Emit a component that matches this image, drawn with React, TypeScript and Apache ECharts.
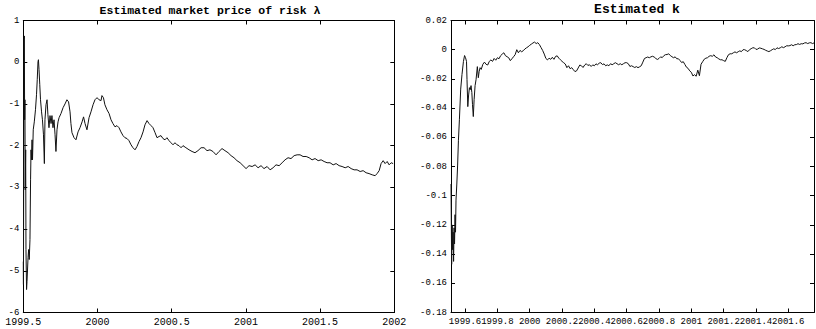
import React, { useEffect, useRef } from "react";
import * as echarts from "echarts";

const LAMBDA_TITLE = "Estimated market price of risk λ";
const KAPPA_TITLE = "Estimated k";

const lambdaXTicks = [1999.5, 2000, 2000.5, 2001, 2001.5, 2002];
const lambdaYTicks = [-6, -5, -4, -3, -2, -1, 0, 1];
const kappaXTicks = [1999.6, 1999.8, 2000, 2000.2, 2000.4, 2000.6, 2000.8, 2001, 2001.2, 2001.4, 2001.6];
const kappaYTicks = [-0.18, -0.16, -0.14, -0.12, -0.1, -0.08, -0.06, -0.04, -0.02, 0, 0.02];

const lambdaSeries: [number, number][] = [
  [1999.500, -4.78], [1999.501, -5.33], [1999.505, 0.54], [1999.507, 0.63], [1999.509, -1.38],
  [1999.511, -0.90], [1999.513, -3.06], [1999.516, -2.10], [1999.518, -4.49], [1999.522, -5.45],
  [1999.525, -5.26], [1999.532, -4.68], [1999.536, -4.49], [1999.540, -4.73], [1999.545, -4.25],
  [1999.549, -2.82], [1999.552, -2.10], [1999.555, -2.34], [1999.559, -1.86], [1999.562, -2.34],
  [1999.567, -1.62], [1999.574, -1.43], [1999.582, -1.14], [1999.589, -0.78], [1999.594, -0.42],
  [1999.599, 0.01], [1999.602, 0.06], [1999.606, -0.18], [1999.611, -0.54], [1999.616, -0.90],
  [1999.623, -1.19], [1999.629, -1.38], [1999.636, -1.74], [1999.642, -2.43], [1999.646, -1.38],
  [1999.653, -1.02], [1999.660, -0.90], [1999.666, -1.26], [1999.673, -1.57], [1999.680, -1.28],
  [1999.687, -1.47], [1999.693, -1.28], [1999.700, -1.57], [1999.707, -1.38], [1999.714, -1.74],
  [1999.720, -2.14], [1999.727, -1.62], [1999.734, -1.43], [1999.741, -1.33], [1999.754, -1.23],
  [1999.768, -1.09], [1999.781, -1.00], [1999.794, -0.90], [1999.805, -0.95], [1999.815, -1.19],
  [1999.821, -1.47], [1999.828, -1.69], [1999.842, -1.81], [1999.855, -1.86], [1999.869, -1.67],
  [1999.882, -1.57], [1999.896, -1.43], [1999.906, -1.31], [1999.916, -1.47], [1999.929, -1.62],
  [1999.943, -1.33], [1999.956, -1.19], [1999.970, -1.02], [1999.983, -0.90], [1999.997, -0.85],
  [2000.010, -0.90], [2000.024, -0.92], [2000.030, -0.80], [2000.040, -0.85], [2000.050, -1.02],
  [2000.064, -1.14], [2000.078, -1.23], [2000.091, -1.38], [2000.104, -1.47], [2000.118, -1.55],
  [2000.131, -1.52], [2000.145, -1.57], [2000.158, -1.67], [2000.172, -1.76], [2000.185, -1.81],
  [2000.199, -1.83], [2000.212, -1.88], [2000.226, -1.98], [2000.239, -2.05], [2000.253, -2.10],
  [2000.266, -2.02], [2000.280, -1.90], [2000.293, -1.81], [2000.307, -1.67], [2000.320, -1.50],
  [2000.334, -1.40], [2000.347, -1.47], [2000.361, -1.52], [2000.374, -1.57], [2000.388, -1.69],
  [2000.401, -1.81], [2000.415, -1.78], [2000.428, -1.76], [2000.441, -1.83], [2000.455, -1.86],
  [2000.468, -1.81], [2000.482, -1.88], [2000.495, -1.93], [2000.509, -1.98], [2000.522, -1.93],
  [2000.536, -1.98], [2000.549, -2.00], [2000.563, -2.05], [2000.576, -2.00], [2000.596, -2.05],
  [2000.617, -2.10], [2000.637, -2.14], [2000.657, -2.17], [2000.677, -2.12], [2000.698, -2.05],
  [2000.718, -2.05], [2000.738, -2.12], [2000.758, -2.10], [2000.778, -2.14], [2000.799, -2.22],
  [2000.819, -2.14], [2000.839, -2.07], [2000.859, -2.12], [2000.880, -2.17], [2000.900, -2.24],
  [2000.920, -2.29], [2000.940, -2.36], [2000.961, -2.41], [2000.981, -2.48], [2001.001, -2.55],
  [2001.021, -2.48], [2001.042, -2.50], [2001.062, -2.46], [2001.082, -2.53], [2001.102, -2.48],
  [2001.122, -2.55], [2001.143, -2.50], [2001.163, -2.58], [2001.183, -2.53], [2001.203, -2.46],
  [2001.224, -2.48], [2001.244, -2.41], [2001.264, -2.34], [2001.284, -2.29], [2001.304, -2.31],
  [2001.325, -2.24], [2001.345, -2.22], [2001.365, -2.22], [2001.385, -2.26], [2001.406, -2.26],
  [2001.426, -2.29], [2001.446, -2.34], [2001.466, -2.31], [2001.487, -2.36], [2001.507, -2.34],
  [2001.527, -2.38], [2001.547, -2.41], [2001.567, -2.41], [2001.588, -2.46], [2001.608, -2.43],
  [2001.628, -2.48], [2001.648, -2.50], [2001.669, -2.53], [2001.689, -2.50], [2001.709, -2.55],
  [2001.729, -2.58], [2001.749, -2.58], [2001.770, -2.62], [2001.790, -2.60], [2001.810, -2.65],
  [2001.830, -2.67], [2001.851, -2.70], [2001.871, -2.72], [2001.884, -2.67], [2001.898, -2.60],
  [2001.911, -2.43], [2001.925, -2.36], [2001.938, -2.43], [2001.952, -2.38], [2001.965, -2.46],
  [2001.979, -2.41], [2001.992, -2.43],
];

const kappaSeries: [number, number][] = [
  [1999.513, -0.092], [1999.517, -0.147], [1999.520, -0.120], [1999.523, -0.137], [1999.526, -0.125],
  [1999.529, -0.145], [1999.532, -0.122], [1999.535, -0.133], [1999.538, -0.113], [1999.541, -0.125],
  [1999.544, -0.103], [1999.549, -0.092], [1999.554, -0.079], [1999.559, -0.062], [1999.565, -0.048],
  [1999.573, -0.027], [1999.581, -0.017], [1999.590, -0.008], [1999.597, -0.004], [1999.603, -0.0055],
  [1999.609, -0.008], [1999.612, -0.0205], [1999.617, -0.039], [1999.622, -0.031], [1999.627, -0.026],
  [1999.632, -0.0274], [1999.637, -0.0246], [1999.642, -0.0294], [1999.646, -0.0376], [1999.651, -0.0458],
  [1999.656, -0.0342], [1999.662, -0.0246], [1999.668, -0.0205], [1999.676, -0.0116], [1999.682, -0.0192],
  [1999.687, -0.0151], [1999.693, -0.0123],
  [1999.70, -0.0135], [1999.71, -0.0100], [1999.72, -0.0085], [1999.73, -0.0100], [1999.74, -0.0105],
  [1999.75, -0.0080], [1999.76, -0.0070], [1999.77, -0.0080], [1999.78, -0.0060], [1999.79, -0.0072],
  [1999.80, -0.0055], [1999.81, -0.0062], [1999.82, -0.0041], [1999.83, -0.0030], [1999.84, -0.0021],
  [1999.85, -0.0041], [1999.86, -0.0048], [1999.87, -0.0055], [1999.88, -0.0075], [1999.89, -0.0062],
  [1999.90, -0.0048], [1999.91, -0.0034], [1999.92, 0.0000], [1999.93, -0.0021], [1999.94, -0.0005],
  [1999.95, -0.0014], [1999.96, -0.0007], [1999.97, 0.0005], [1999.98, 0.0013], [1999.99, 0.0020],
  [2000.00, 0.0030], [2000.01, 0.0038], [2000.02, 0.0046], [2000.03, 0.0052], [2000.04, 0.0042],
  [2000.05, 0.0048], [2000.06, 0.0035], [2000.07, 0.0015], [2000.08, -0.0005], [2000.09, -0.0030],
  [2000.10, -0.0060], [2000.11, -0.0070], [2000.12, -0.0058], [2000.13, -0.0066], [2000.14, -0.0052],
  [2000.15, -0.0066], [2000.16, -0.0046], [2000.17, -0.0042], [2000.18, -0.0058], [2000.19, -0.0069],
  [2000.20, -0.0080], [2000.21, -0.0089], [2000.22, -0.0098], [2000.23, -0.0123], [2000.24, -0.0110],
  [2000.25, -0.0130], [2000.26, -0.0123], [2000.27, -0.0137], [2000.28, -0.0150], [2000.29, -0.0145],
  [2000.30, -0.0125], [2000.31, -0.0105], [2000.32, -0.0110], [2000.33, -0.0122], [2000.34, -0.0105],
  [2000.35, -0.0096], [2000.36, -0.0108], [2000.37, -0.0103], [2000.38, -0.0115], [2000.39, -0.0104],
  [2000.40, -0.0110], [2000.41, -0.0097], [2000.42, -0.0103], [2000.43, -0.0092], [2000.44, -0.0089],
  [2000.45, -0.0102], [2000.46, -0.0097], [2000.47, -0.0110], [2000.48, -0.0104], [2000.49, -0.0110],
  [2000.50, -0.0096], [2000.51, -0.0103], [2000.52, -0.0096], [2000.53, -0.0089], [2000.54, -0.0096],
  [2000.55, -0.0103], [2000.56, -0.0096], [2000.57, -0.0103], [2000.58, -0.0096], [2000.59, -0.0089],
  [2000.60, -0.0089], [2000.61, -0.0096], [2000.62, -0.0115], [2000.63, -0.0110], [2000.64, -0.0116],
  [2000.65, -0.0122], [2000.66, -0.0116], [2000.67, -0.0123], [2000.68, -0.0117], [2000.69, -0.0110],
  [2000.70, -0.0085], [2000.71, -0.0060], [2000.72, -0.0055], [2000.73, -0.0050], [2000.74, -0.0055],
  [2000.75, -0.0049], [2000.76, -0.0045], [2000.77, -0.0050], [2000.78, -0.0060], [2000.79, -0.0067],
  [2000.80, -0.0060], [2000.81, -0.0049], [2000.82, -0.0054], [2000.83, -0.0041], [2000.84, -0.0034],
  [2000.85, -0.0033], [2000.86, -0.0028], [2000.87, -0.0040], [2000.88, -0.0048], [2000.89, -0.0055],
  [2000.90, -0.0049], [2000.91, -0.0062], [2000.92, -0.0062], [2000.93, -0.0074], [2000.94, -0.0088],
  [2000.95, -0.0082], [2000.96, -0.0101], [2000.97, -0.0120], [2000.98, -0.0128], [2000.99, -0.0145],
  [2001.00, -0.0155], [2001.01, -0.0180], [2001.02, -0.0171], [2001.03, -0.0182], [2001.04, -0.0140],
  [2001.05, -0.0178], [2001.06, -0.0100], [2001.07, -0.0082], [2001.08, -0.0065], [2001.09, -0.0058],
  [2001.10, -0.0055], [2001.11, -0.0045], [2001.12, -0.0041], [2001.13, -0.0045], [2001.14, -0.0035],
  [2001.15, -0.0050], [2001.16, -0.0055], [2001.17, -0.0063], [2001.18, -0.0069], [2001.19, -0.0069],
  [2001.20, -0.0075], [2001.21, -0.0080], [2001.22, -0.0055], [2001.23, -0.0034], [2001.24, -0.0028],
  [2001.25, -0.0028], [2001.26, -0.0021], [2001.27, -0.0015], [2001.28, -0.0021], [2001.29, -0.0014],
  [2001.30, -0.0008], [2001.31, -0.0013], [2001.32, 0.0000], [2001.33, 0.0000], [2001.34, -0.0006],
  [2001.35, -0.0013], [2001.36, 0.0000], [2001.37, 0.0007], [2001.38, 0.0013], [2001.39, 0.0013],
  [2001.40, 0.0002], [2001.41, 0.0004], [2001.42, 0.0012], [2001.43, 0.0010], [2001.44, 0.0006],
  [2001.45, 0.0002], [2001.46, -0.0004], [2001.47, -0.0009], [2001.48, -0.0013], [2001.49, -0.0007],
  [2001.50, 0.0000], [2001.51, 0.0006], [2001.52, 0.0001], [2001.53, 0.0013], [2001.54, 0.0008],
  [2001.55, 0.0013], [2001.56, 0.0020], [2001.57, 0.0014], [2001.58, 0.0020], [2001.59, 0.0027],
  [2001.60, 0.0026], [2001.61, 0.0028], [2001.62, 0.0034], [2001.63, 0.0027], [2001.64, 0.0034],
  [2001.65, 0.0035], [2001.66, 0.0041], [2001.67, 0.0036], [2001.68, 0.0041], [2001.69, 0.0040],
  [2001.70, 0.0046], [2001.71, 0.0048], [2001.72, 0.0042], [2001.73, 0.0047], [2001.74, 0.0048],
  [2001.75, 0.0042], [2001.76, 0.0047],
];

const FONT = "'Liberation Mono', 'DejaVu Sans Mono', monospace";
const fmt1 = (v: number) => String(Math.round(v * 10) / 10);
const fmt2 = (v: number) => String(Math.round(v * 100) / 100);

function xAxisDef(gridIndex: number, min: number, max: number, ticks: number[], top: boolean, fontSize: number) {
  return {
    type: "value",
    gridIndex,
    position: top ? "top" : "bottom",
    min,
    max,
    splitLine: { show: false },
    axisLine: { show: true, onZero: false, lineStyle: { color: "#000", width: 1 } },
    axisTick: { show: true, inside: true, length: 4, customValues: ticks, lineStyle: { color: "#000" } },
    axisLabel: {
      show: !top,
      customValues: ticks,
      formatter: (v: number) => fmt1(v),
      fontFamily: FONT,
      fontSize,
      lineHeight: fontSize,
      color: "#000",
      margin: 5,
      hideOverlap: false,
    },
  };
}

function yAxisDef(gridIndex: number, min: number, max: number, ticks: number[], right: boolean, fmt: (v: number) => string) {
  return {
    type: "value",
    gridIndex,
    position: right ? "right" : "left",
    min,
    max,
    splitLine: { show: false },
    axisLine: { show: true, onZero: false, lineStyle: { color: "#000", width: 1 } },
    axisTick: { show: true, inside: true, length: 4, customValues: ticks, lineStyle: { color: "#000" } },
    axisLabel: {
      show: !right,
      customValues: ticks,
      formatter: (v: number) => fmt(v),
      fontFamily: FONT,
      fontSize: 9,
      lineHeight: 8,
      color: "#000",
      margin: 4,
    },
  };
}

export default function App() {
  const ref = useRef<HTMLDivElement>(null);
  useEffect(() => {
    if (!ref.current) return;
    const chart = echarts.init(ref.current, undefined, { renderer: "svg" });
    chart.setOption({
      animation: false,
      backgroundColor: "#fff",
      title: [
        {
          text: LAMBDA_TITLE,
          left: 210,
          top: 4,
          textAlign: "center",
          padding: 0,
          textStyle: { fontFamily: FONT, fontWeight: "bold", fontSize: 11.5, color: "#000" },
        },
        {
          text: KAPPA_TITLE,
          left: 637,
          top: 3,
          textAlign: "center",
          padding: 0,
          textStyle: { fontFamily: FONT, fontWeight: "bold", fontSize: 13, color: "#000" },
        },
      ],
      grid: [
        { left: 23.3, top: 20.5, width: 371, height: 292, outerBoundsMode: "none", containLabel: false },
        { left: 451, top: 20.5, width: 363, height: 292, outerBoundsMode: "none", containLabel: false },
      ],
      xAxis: [
        xAxisDef(0, 1999.5, 2002, lambdaXTicks, false, 10),
        xAxisDef(0, 1999.5, 2002, lambdaXTicks, true, 10),
        xAxisDef(1, 1999.513, 2001.759, kappaXTicks, false, 9),
        xAxisDef(1, 1999.513, 2001.759, kappaXTicks, true, 9),
      ],
      yAxis: [
        yAxisDef(0, -6, 1, lambdaYTicks, false, fmt1),
        yAxisDef(0, -6, 1, lambdaYTicks, true, fmt1),
        yAxisDef(1, -0.18, 0.02, kappaYTicks, false, fmt2),
        yAxisDef(1, -0.18, 0.02, kappaYTicks, true, fmt2),
      ],
      series: [
        {
          type: "line",
          xAxisIndex: 0,
          yAxisIndex: 0,
          data: lambdaSeries,
          showSymbol: false,
          symbol: "none",
          lineStyle: { color: "#111", width: 1 },
        },
        {
          type: "line",
          xAxisIndex: 2,
          yAxisIndex: 2,
          data: kappaSeries,
          showSymbol: false,
          symbol: "none",
          lineStyle: { color: "#111", width: 1 },
        },
      ],
    });
    return () => chart.dispose();
  }, []);
  return (
    <div
      ref={ref}
      style={{ position: "fixed", left: 0, top: 0, width: 816, height: 329, background: "#fff" }}
    />
  );
}
